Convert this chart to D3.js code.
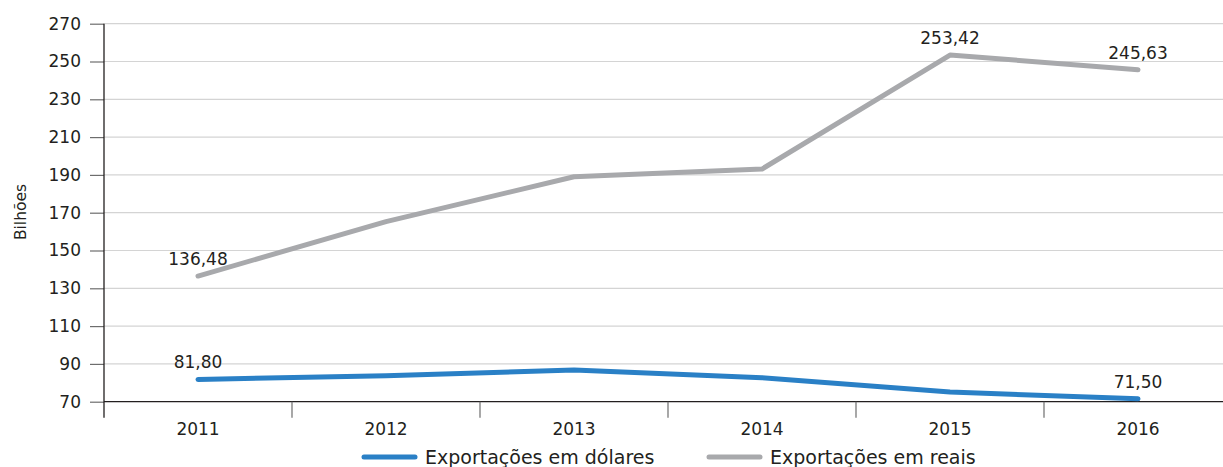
<!DOCTYPE html>
<html>
<head>
<meta charset="utf-8">
<script src="https://cdn.jsdelivr.net/npm/d3@7"></script>
<style>
  html, body { margin: 0; padding: 0; background: #ffffff; }
  svg { display: block; font-family: "DejaVu Sans", sans-serif; }
</style>
</head>
<body>
<svg id="chart" width="1223" height="467"></svg>
<script>
// Exportações, em bilhões
const anos = ["2011", "2012", "2013", "2014", "2015", "2016"];
const exportacoesDolares = [81.80, 83.7, 86.8, 82.7, 75.1, 71.50];
const exportacoesReais = [136.48, 165.3, 189.0, 193.1, 253.42, 245.63];
const rotulosDolares = [0, 5];       // pontos com valor escrito
const rotulosReais = [0, 4, 5];
const yTicks = [70, 90, 110, 130, 150, 170, 190, 210, 230, 250, 270];
const nomesSeries = ["Exportações em dólares", "Exportações em reais"];
const coresSeries = ["#2a80c6", "#a8a9ac"];

const svg = d3.select("#chart");
const margemEsq = 104, plotTopo = 23.7, plotBase = 401.7, faixa = 188;
const fonte = "'DejaVu Sans', sans-serif";

const x = d3.scaleBand().domain(anos).range([margemEsq, margemEsq + faixa * anos.length]).padding(0);
const y = d3.scaleLinear().domain([70, 270]).range([plotBase, plotTopo]);

const ptBR = d3.formatLocale({ decimal: ",", thousands: ".", grouping: [3], currency: ["R$", ""] });
const fmt = ptBR.format(".2f");

// linhas de grade
svg.append("g")
  .selectAll("line")
  .data(yTicks.filter(t => t !== 70))
  .join("line")
  .attr("x1", margemEsq).attr("x2", 1223)
  .attr("y1", d => y(d)).attr("y2", d => y(d))
  .attr("stroke", "#d4d4d4").attr("stroke-width", 1.2);

// eixo Y
const yAxis = svg.append("g")
  .attr("transform", `translate(${margemEsq},0)`)
  .call(d3.axisLeft(y).tickValues(yTicks).tickSize(14).tickPadding(9));
yAxis.select(".domain").remove();
yAxis.selectAll(".tick line").attr("stroke", "#6d6d6d").attr("stroke-width", 1.2);
yAxis.selectAll(".tick text").attr("fill", "#231f20").attr("font-size", 17).attr("font-family", fonte);

svg.append("line")
  .attr("x1", margemEsq).attr("x2", margemEsq)
  .attr("y1", plotTopo).attr("y2", plotBase + 16)
  .attr("stroke", "#231f20").attr("stroke-width", 1.3);

// eixo X
const xAxis = svg.append("g")
  .attr("transform", `translate(0,${plotBase})`)
  .call(d3.axisBottom(x).tickSize(0).tickPadding(21));
xAxis.select(".domain").attr("stroke", "#231f20").attr("stroke-width", 1.3)
  .attr("d", `M${margemEsq},0H1223`);
xAxis.selectAll(".tick text").attr("fill", "#231f20").attr("font-size", 17).attr("font-family", fonte);

svg.append("g")
  .selectAll("line")
  .data(anos.slice(1))
  .join("line")
  .attr("x1", d => x(d)).attr("x2", d => x(d))
  .attr("y1", plotBase).attr("y2", plotBase + 16)
  .attr("stroke", "#6d6d6d").attr("stroke-width", 1.2);

// título do eixo Y
svg.append("text")
  .attr("transform", `translate(26,212) rotate(-90)`)
  .attr("text-anchor", "middle")
  .attr("font-size", 15.5)
  .attr("fill", "#231f20")
  .text("Bilhões");

// séries
const line = d3.line()
  .x((d, i) => x(anos[i]) + x.bandwidth() / 2)
  .y(d => y(d));

const series = [
  { valores: exportacoesReais, cor: coresSeries[1], rotulos: rotulosReais },
  { valores: exportacoesDolares, cor: coresSeries[0], rotulos: rotulosDolares }
];

series.forEach(s => {
  svg.append("path")
    .datum(s.valores)
    .attr("fill", "none")
    .attr("stroke", s.cor)
    .attr("stroke-width", 5)
    .attr("stroke-linecap", "round")
    .attr("stroke-linejoin", "round")
    .attr("d", line);

  svg.append("g")
    .selectAll("text")
    .data(s.rotulos)
    .join("text")
    .attr("x", i => x(anos[i]) + x.bandwidth() / 2)
    .attr("y", i => y(s.valores[i]) - 11)
    .attr("text-anchor", "middle")
    .attr("font-size", 17)
    .attr("fill", "#231f20")
    .text(i => fmt(s.valores[i]));
});

// legenda
const legendItems = [
  { nome: nomesSeries[0], cor: coresSeries[0], x: 364 },
  { nome: nomesSeries[1], cor: coresSeries[1], x: 709 }
];
const lg = svg.append("g").selectAll("g").data(legendItems).join("g")
  .attr("transform", d => `translate(${d.x},457)`);
lg.append("line")
  .attr("x1", 0).attr("x2", 51)
  .attr("stroke", d => d.cor).attr("stroke-width", 5).attr("stroke-linecap", "round");
lg.append("text")
  .attr("x", 61).attr("y", 0).attr("dy", "0.36em")
  .attr("font-size", 19)
  .attr("fill", "#231f20")
  .text(d => d.nome);
</script>
</body>
</html>
